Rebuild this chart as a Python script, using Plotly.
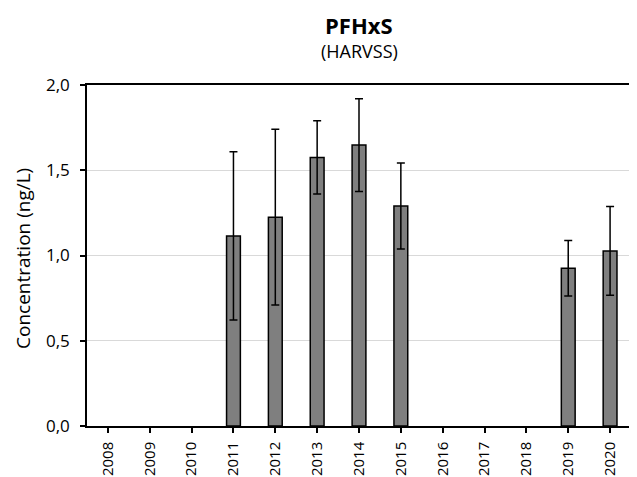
import plotly.graph_objects as go

years = ["2008", "2009", "2010", "2011", "2012", "2013", "2014", "2015",
         "2016", "2017", "2018", "2019", "2020"]
values = [None, None, None, 1.115, 1.225, 1.575, 1.648, 1.29,
          None, None, None, 0.925, 1.027]
errors = [None, None, None, 0.494, 0.515, 0.215, 0.272, 0.252,
          None, None, None, 0.163, 0.26]
y_ticks = [0, 0.5, 1.0, 1.5, 2.0]

FONT = "Open Sans"
# page body has an 8px margin; compensate so the plot area lands at x 87..631, y 85..426
OFF = 8
W, H = 637 - OFF, 477 - OFF
ML, MT, MR, MB = 87 - OFF, 85 - OFF, 6, 51
PLOT_H = H - MT - MB
PLOT_W = W - ML - MR

fig = go.Figure()
fig.add_trace(go.Bar(
    x=years, y=values,
    marker=dict(color="#7f7f7f", line=dict(color="#000000", width=1.5)),
    width=0.33,
    error_y=dict(type="data", array=errors, visible=True,
                 color="#000000", thickness=1.5, width=4),
))

fig.update_layout(
    width=W, height=H,
    margin=dict(l=ML, r=MR, t=MT, b=MB, autoexpand=False),
    paper_bgcolor="white", plot_bgcolor="white",
    separators=", ",
    showlegend=False,
    font=dict(family=FONT, color="#000000"),
)
fig.add_annotation(text="<b>PFHxS</b>", xref="paper", yref="paper",
                   x=0.5, y=1 + (85 - 25) / PLOT_H, showarrow=False,
                   font=dict(size=22, family=FONT), yanchor="middle")
fig.add_annotation(text="(HARVSS)", xref="paper", yref="paper",
                   x=0.5, y=1 + (85 - 51) / PLOT_H, showarrow=False,
                   font=dict(size=18, family=FONT), yanchor="middle")
fig.add_annotation(text="Concentration (ng/L)", xref="paper", yref="paper",
                   x=-(87 - 23) / PLOT_W, y=0.5 + (255.5 - 259) / PLOT_H,
                   showarrow=False, textangle=-90,
                   font=dict(size=19, family=FONT), xanchor="center", yanchor="middle")

fig.update_xaxes(
    type="category", automargin=False,
    showline=True, linecolor="#000000", linewidth=1.5, mirror=True,
    ticks="outside", ticklen=5, tickcolor="#000000", tickwidth=1.5,
    tickangle=-90, tickfont=dict(size=15, family=FONT), ticklabelstandoff=3,
    showgrid=False,
)
fig.update_yaxes(
    range=[0, 2.0], tickvals=y_ticks, tickformat=".1f", automargin=False,
    showline=True, linecolor="#000000", linewidth=1.5, mirror=True,
    ticks="outside", ticklen=5, tickcolor="#000000", tickwidth=1.5,
    tickfont=dict(size=17, family=FONT), ticklabelstandoff=7,
    showgrid=True, gridcolor="#d9d9d9", gridwidth=1,
    zeroline=False,
)

fig.write_html("out.html")
